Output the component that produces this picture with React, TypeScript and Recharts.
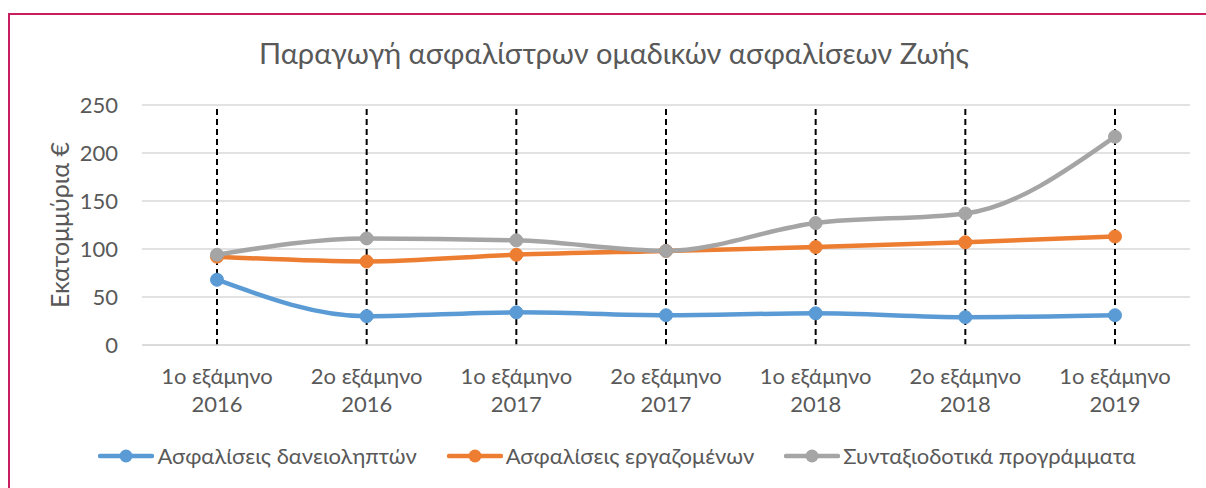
import { CartesianGrid, Line, LineChart, XAxis, YAxis, Label, ReferenceLine } from "recharts";

// Παραγωγή ασφαλίστρων ομαδικών ασφαλίσεων Ζωής (εκατ. €)
const periods = [
  "1ο εξάμηνο 2016",
  "2ο εξάμηνο 2016",
  "1ο εξάμηνο 2017",
  "2ο εξάμηνο 2017",
  "1ο εξάμηνο 2018",
  "2ο εξάμηνο 2018",
  "1ο εξάμηνο 2019"
];
const borrowers = [68, 30, 34, 31, 33, 29, 31];
const employees = [92, 87, 94, 98, 102, 107, 113];
const pensions = [94, 111, 109, 98, 127, 137, 217];
const yTicks = [0, 50, 100, 150, 200, 250];

const series = [
  { key: "borrowers", name: "Ασφαλίσεις δανειοληπτών", color: "#5b9bd5" },
  { key: "employees", name: "Ασφαλίσεις εργαζομένων", color: "#ed7d31" },
  { key: "pensions", name: "Συνταξιοδοτικά προγράμματα", color: "#a5a5a5" }
];

const data = periods.map((p, i) => ({
  period: p,
  borrowers: borrowers[i],
  employees: employees[i],
  pensions: pensions[i]
}));

const FONT = "Lato, 'Noto Sans', sans-serif";
const TEXT = "#595959";

function PeriodTick({ x, y, payload }: any) {
  const label: string = payload.value;
  const cut = label.lastIndexOf(" ");
  return (
    <text x={x} y={y} textAnchor="middle" fill={TEXT} fontSize={22} fontFamily={FONT}>
      <tspan x={x} dy={31}>{label.slice(0, cut)}</tspan>
      <tspan x={x} dy={28}>{label.slice(cut + 1)}</tspan>
    </text>
  );
}

function LegendRow() {
  return (
    <div style={{ display: "flex", justifyContent: "center", gap: 30, fontFamily: FONT, fontSize: 22, color: TEXT }}>
      {series.map((s) => (
        <div key={s.key} style={{ display: "flex", alignItems: "center" }}>
          <svg width={56} height={14} style={{ marginRight: 3 }}>
            <line x1={2} y1={7} x2={54} y2={7} stroke={s.color} strokeWidth={4.5} strokeLinecap="round" />
            <circle cx={28} cy={7} r={6.5} fill={s.color} />
          </svg>
          <span>{s.name}</span>
        </div>
      ))}
    </div>
  );
}

export default function App() {
  return (
    <div style={{ position: "absolute", left: 0, top: 0, width: 1206, height: 488, background: "#fff", overflow: "hidden" }}>
      <div
        style={{
          position: "absolute",
          left: 8,
          top: 13,
          width: 1300,
          height: 600,
          borderLeft: "2px solid #c81e5f",
          borderTop: "2px solid #c81e5f"
        }}
      />
      <div
        style={{
          position: "absolute",
          left: 0,
          top: 35,
          width: 1228,
          textAlign: "center",
          fontFamily: FONT,
          fontSize: 29,
          color: TEXT
        }}
      >
        Παραγωγή ασφαλίστρων ομαδικών ασφαλίσεων Ζωής
      </div>
      <div style={{ position: "absolute", left: 0, top: 0 }}>
        <LineChart width={1206} height={488} data={data} margin={{ top: 105, right: 16, bottom: 0, left: 44 }}>
          <CartesianGrid horizontal vertical={false} stroke="#d9d9d9" strokeWidth={1.5} />
          <XAxis
            dataKey="period"
            tick={<PeriodTick />}
            tickLine={false}
            axisLine={{ stroke: "#d9d9d9", strokeWidth: 1.5 }}
            interval={0}
            padding={{ left: 75, right: 75 }}
            height={143}
          />
          <YAxis
            domain={[0, 250]}
            ticks={yTicks}
            width={98}
            tickLine={false}
            axisLine={false}
            tickSize={0}
            tickMargin={24}
            tick={{ fill: TEXT, fontSize: 22, fontFamily: FONT }}
          >
            <Label
              value="Εκατομμύρια €"
              angle={-90}
              position="insideLeft"
              offset={16}
              style={{ fill: TEXT, fontSize: 25, fontFamily: FONT, textAnchor: "middle" }}
            />
          </YAxis>
          {periods.map((p) => (
            <ReferenceLine key={p} x={p} stroke="#000" strokeDasharray="6 4" strokeWidth={2} />
          ))}
          {series.map((s) => (
            <Line
              key={s.key}
              type="monotone"
              dataKey={s.key}
              name={s.name}
              stroke={s.color}
              strokeWidth={4.5}
              dot={{ r: 6.5, fill: s.color, stroke: s.color, strokeWidth: 1 }}
              activeDot={false}
              isAnimationActive={false}
            />
          ))}
        </LineChart>
      </div>
      <div style={{ position: "absolute", left: 0, top: 442, width: 1234 }}>
        <LegendRow />
      </div>
    </div>
  );
}
